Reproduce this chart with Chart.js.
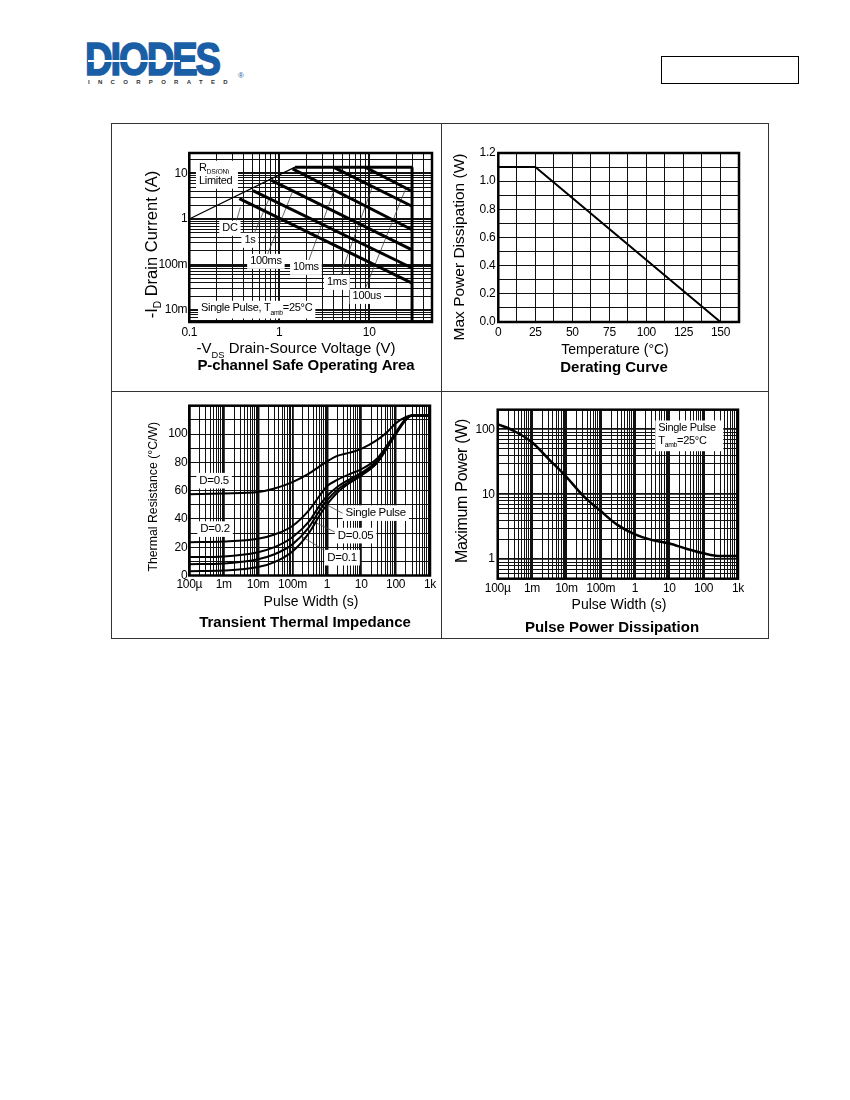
<!DOCTYPE html>
<html lang="en">
<head>
<meta charset="utf-8">
<title>Typical Characteristics</title>
<script src="https://cdn.jsdelivr.net/npm/chart.js@4.4.1/dist/chart.umd.min.js"></script>
<style>
  html, body { margin:0; padding:0; background:#fff; }
  body { width:850px; height:1100px; position:relative; overflow:hidden; font-family:"Liberation Sans", Arial, sans-serif; }
  .abs { position:absolute; }
  #logo { left:85px; top:36px; font-weight:bold; font-size:46px; line-height:46px; color:#1a5ea6; letter-spacing:-2.5px; -webkit-text-stroke:1.6px #1a5ea6; transform:scaleX(0.83); transform-origin:0 0; white-space:nowrap; }
  #logoStripe { left:88px; top:60px; width:92px; height:1.6px; background:#fff; }
  #logoSub { left:88px; top:79px; font-weight:bold; font-size:6px; line-height:6px; letter-spacing:8.3px; color:#333; white-space:nowrap; }
  #logoReg { left:238px; top:72px; font-size:8px; line-height:8px; color:#1a5ea6; }
  #partBox { left:661px; top:56px; width:138px; height:28px; border:1.5px solid #000; box-sizing:border-box; }
  #frame { left:111px; top:123px; width:658px; height:516px; border:1.5px solid #333; box-sizing:border-box; }
  #vdiv { left:440.5px; top:123px; width:1.5px; height:516px; background:#333; }
  #hdiv { left:111px; top:390.5px; width:658px; height:1.5px; background:#333; }
  canvas { position:absolute; }
</style>
</head>
<body>
<div id="logo" class="abs">DIODES</div>
<div id="logoStripe" class="abs"></div>
<div id="logoSub" class="abs">INCORPORATED</div>
<div id="logoReg" class="abs">®</div>
<div id="partBox" class="abs"></div>
<div id="frame" class="abs"></div>
<div id="vdiv" class="abs"></div>
<div id="hdiv" class="abs"></div>
<canvas id="soa" width="330" height="268" style="left:111px;top:123px"></canvas>
<canvas id="derating" width="328" height="268" style="left:441px;top:123px"></canvas>
<canvas id="thermal" width="330" height="248" style="left:111px;top:391px"></canvas>
<canvas id="pulse" width="328" height="248" style="left:441px;top:391px"></canvas>
<script>
const FONT = '"Liberation Sans", Arial, sans-serif';

// ===== P-channel Safe Operating Area (data) =====
const soaXTickValues = [0.1, 1, 10];
const soaXTickLabels = ['0.1', '1', '10'];
const soaYTickValues = [0.01, 0.1, 1, 10];
const soaYTickLabels = ['10m', '100m', '1', '10'];
const soaRdsVoltage = [0.1, 1.5];
const soaRdsCurrent = [1.0, 13.7];
const soaMaxVoltage = [1.5, 30];
const soaMaxCurrent = [13.7, 13.7];
const soaBvVoltage = [30, 30];
const soaBvCurrent = [13.7, 0.0055];
const soaPulseNames = ['DC', '1s', '100ms', '10ms', '1ms', '100us'];
const soaStartVoltage = [0.36, 0.51, 0.82, 1.41, 4.0, 9.0];
const soaStartCurrent = [2.8, 4.2, 7.0, 12.6, 13.7, 13.7];
const soaEndVoltage = [30, 30, 30, 30, 30, 30];
const soaEndCurrent = [0.039, 0.084, 0.21, 0.58, 1.9, 4.06];
// SOA annotation anchors (data units)
const soaLabelVoltage = [0.283, 0.472, 0.711, 1.98, 4.38, 9.43];
const soaLabelCurrent = [0.625, 0.34, 0.1175, 0.0867, 0.0406, 0.02];
const soaLeaderFromV = [0.335, 0.506, 0.71, 2.07, 4.64, 9.2];
const soaLeaderFromI = [0.92, 0.40, 0.135, 0.105, 0.049, 0.032];
const soaLeaderToV = [0.37, 0.774, 1.41, 4.08, 10.9, 25.6];
const soaLeaderToI = [1.8, 2.85, 4.06, 4.27, 5.2, 4.7];

// ===== Derating Curve (data) =====
const derTempC = [0, 25, 150];
const derPowerW = [1.1, 1.1, 0];
const derXTickValues = [0, 25, 50, 75, 100, 125, 150];
const derXTickLabels = ['0', '25', '50', '75', '100', '125', '150'];
const derYTickValues = [0, 0.2, 0.4, 0.6, 0.8, 1.0, 1.2];
const derYTickLabels = ['0.0', '0.2', '0.4', '0.6', '0.8', '1.0', '1.2'];

// ===== Transient Thermal Impedance (data) =====
const ttiPulseS = [1e-4, 1e-3, 1e-2, 3e-2, 0.1, 0.3, 0.6, 1, 2, 5, 10, 30, 60, 100, 200, 300, 1000];
const ttiD05    = [57.5, 58, 59, 61.5, 66, 72, 77, 80.5, 84.5, 87, 89.5, 96, 102, 107.5, 112, 113, 113];
const ttiD02    = [23.5, 24, 26, 29, 35, 46, 56, 63, 67.5, 72, 75, 83, 93, 101, 111, 113, 113];
const ttiD01    = [13, 13.5, 16.5, 20, 27, 38, 49, 56, 62.5, 68.5, 72.5, 81.5, 92, 100.5, 110.5, 113, 113];
const ttiD005   = [8, 8.5, 11.5, 15, 22, 34, 45.5, 53, 60.5, 67, 71.5, 80.5, 91.5, 100, 110, 113, 113];
const ttiSingle = [3, 3.5, 6, 9.5, 17, 30, 42, 50, 58.5, 66, 70.5, 80, 91, 99.5, 110, 113, 113];
const pulseXTickValues = [1e-4, 1e-3, 1e-2, 0.1, 1, 10, 100, 1000];
const pulseXTickLabels = ['100µ', '1m', '10m', '100m', '1', '10', '100', '1k'];
const ttiYTickValues = [0, 20, 40, 60, 80, 100];
const ttiYTickLabels = ['0', '20', '40', '60', '80', '100'];
// annotation anchors (data units)
const ttiLabelNames = ['D=0.5', 'D=0.2', 'Single Pulse', 'D=0.05', 'D=0.1'];
const ttiLabelT = [5.27e-4, 5.6e-4, 26.4, 6.85, 2.78];
const ttiLabelR = [67, 32.8, 44.1, 28.2, 12.6];
const ttiLeaderFromT = [0.83, 0.42, 0.194];
const ttiLeaderFromR = [51, 38, 27.4];
const ttiLeaderToT = [3.18, 2.04, 1.16];
const ttiLeaderToR = [43.4, 29.8, 15.7];

// ===== Pulse Power Dissipation (data) =====
const ppdPulseS = [1e-4, 3e-4, 1e-3, 3e-3, 1e-2, 3e-2, 0.1, 0.3, 1, 3, 10, 30, 100, 300, 1000];
const ppdPowerW = [120, 94, 63, 35, 18.5, 9.6, 5.5, 3.4, 2.4, 1.98, 1.74, 1.46, 1.23, 1.12, 1.12];
const ppdYTickValues = [1, 10, 100];
const ppdYTickLabels = ['1', '10', '100'];
const ppdNoteT = 4.76;
const ppdNoteP = [104.7, 66];

// ===== helpers =====
function logGrid(min, max) {
  const out = [];
  for (let e = Math.floor(Math.log10(min)); e <= Math.ceil(Math.log10(max)); e++) {
    for (let k = 1; k <= 9; k++) {
      const v = parseFloat((k * Math.pow(10, e)).toPrecision(8));
      if (v >= min * 0.99999 && v <= max * 1.00001) out.push({ value: v, major: k === 1, exp: e });
    }
  }
  return out;
}
function linGrid(min, max, step) {
  const out = [];
  const n = Math.round((max - min) / step);
  for (let i = 0; i <= n; i++) out.push({ value: parseFloat((min + i * step).toFixed(6)) });
  return out;
}
function labeler(values, labels, isLog) {
  return function (v) {
    const i = values.findIndex(t => isLog ? Math.abs(Math.log10(t) - Math.log10(v)) < 1e-6 : Math.abs(t - v) < 1e-6);
    return i >= 0 ? labels[i] : '';
  };
}
function axis(o) {
  return {
    type: o.type, position: o.position, min: o.min, max: o.max,
    afterBuildTicks: s => { s.ticks = o.grid.map(t => Object.assign({}, t)); },
    afterFit: s => { if (o.position === 'left') s.width = o.size; else s.height = o.size; },
    ticks: { autoSkip: false, maxRotation: 0, minRotation: 0, padding: o.pad, color: '#000',
             font: { family: FONT, size: 12 }, callback: labeler(o.tickValues, o.tickLabels, o.type === 'logarithmic') },
    grid: { color: '#111', lineWidth: o.gridWidth, drawTicks: false },
    border: { display: false }
  };
}
function series(xs, ys, width, color, extra) {
  return Object.assign({
    data: xs.map((x, i) => ({ x: x, y: ys[i] })),
    showLine: true, borderColor: color, backgroundColor: color, borderWidth: width,
    pointRadius: 0, pointHoverRadius: 0, fill: false, tension: 0
  }, extra || {});
}
function drawText(ctx, x, y, parts, o) {
  const size = o.size;
  ctx.save();
  ctx.letterSpacing = (o.ls !== undefined ? o.ls : -0.3) + 'px';
  ctx.translate(x, y);
  if (o.rot) ctx.rotate(o.rot);
  const segs = parts.map(p => {
    const sub = p[1] === 'sub';
    const s = sub ? Math.round(size * 0.62 * 10) / 10 : size;
    ctx.font = (o.bold ? 'bold ' : '') + s + 'px ' + FONT;
    return { t: p[0], s: s, sub: sub, w: ctx.measureText(p[0]).width };
  });
  const W = segs.reduce((a, b) => a + b.w, 0);
  let cx = o.align === 'left' ? 0 : -W / 2;
  if (o.bg) {
    const hasSub = segs.some(s => s.sub);
    ctx.fillStyle = '#fff';
    ctx.fillRect(cx - 3, -size * 0.68, (o.bgW || W) + 6, size * 1.36 + (hasSub ? size * 0.25 : 0));
  }
  ctx.fillStyle = '#000';
  ctx.textBaseline = 'middle';
  ctx.textAlign = 'left';
  for (const sg of segs) {
    ctx.font = (o.bold ? 'bold ' : '') + sg.s + 'px ' + FONT;
    ctx.fillText(sg.t, cx, sg.sub ? size * 0.4 : 0);
    cx += sg.w;
  }
  ctx.restore();
}
function decor(titles, annotate) {
  return {
    id: 'decor',
    beforeUpdate(c) { c.ctx.letterSpacing = '-0.3px'; },
    beforeDraw(c) { c.ctx.letterSpacing = '-0.3px'; },
    afterDatasetsDraw(c) { if (annotate) annotate(c, c.ctx, c.scales.x, c.scales.y); },
    afterDraw(c) {
      const a = c.chartArea, ctx = c.ctx;
      ctx.save();
      ctx.strokeStyle = '#000';
      ctx.lineWidth = 2.5;
      ctx.strokeRect(a.left, a.top, a.right - a.left, a.bottom - a.top);
      ctx.restore();
      titles.forEach(t => drawText(ctx, t.x, t.y, t.parts, t));
    }
  };
}
function makeChart(id, datasets, xAxis, yAxis, pad, titles, annotate) {
  return new Chart(document.getElementById(id), {
    type: 'scatter',
    data: { datasets: datasets },
    options: {
      responsive: false, animation: false, events: [],
      layout: { padding: { left: 0, top: pad.top, right: pad.right, bottom: 0 } },
      plugins: { legend: { display: false }, tooltip: { enabled: false }, title: { display: false } },
      scales: { x: xAxis, y: yAxis }
    },
    plugins: [decor(titles, annotate)]
  });
}
const majorW = (maj, min) => c => (c.tick && c.tick.major ? maj : min);

// ===== Chart 1: SOA =====
makeChart('soa', [
    series(soaRdsVoltage, soaRdsCurrent, 1.2, '#000'),
    series(soaMaxVoltage, soaMaxCurrent, 3, '#000'),
    series(soaBvVoltage, soaBvCurrent, 3, '#000'),
    ...soaPulseNames.map((n, i) => series([soaStartVoltage[i], soaEndVoltage[i]], [soaStartCurrent[i], soaEndCurrent[i]], 3, '#000', { label: n })),
    ...soaPulseNames.map((n, i) => series([soaLeaderFromV[i], soaLeaderToV[i]], [soaLeaderFromI[i], soaLeaderToI[i]], 0.8, '#444'))
  ],
  axis({ type: 'logarithmic', position: 'bottom', min: 0.1, max: 50, grid: logGrid(0.1, 50),
         tickValues: soaXTickValues, tickLabels: soaXTickLabels, size: 69, pad: 3, gridWidth: majorW(2, 1) }),
  axis({ type: 'logarithmic', position: 'left', min: 0.0055, max: 28, grid: logGrid(0.0055, 28),
         tickValues: soaYTickValues, tickLabels: soaYTickLabels, size: 78.3, pad: 2, gridWidth: majorW(2, 1) }),
  { top: 30, right: 9 },
  [
    { x: 41, y: 121.5, rot: -Math.PI / 2, size: 16.5, ls: 0, parts: [['-I'], ['D', 'sub'], [' Drain Current (A)']] },
    { x: 185, y: 226, size: 15, ls: 0, parts: [['-V'], ['DS', 'sub'], [' Drain-Source Voltage (V)']] },
    { x: 195, y: 243, size: 15, bold: true, ls: -0.1, parts: [['P-channel Safe Operating Area']] }
  ],
  (c, ctx, X, Y) => {
    soaPulseNames.forEach((n, i) => {
      drawText(ctx, X.getPixelForValue(soaLabelVoltage[i]), Y.getPixelForValue(soaLabelCurrent[i]), [[n]], { size: 11, bg: true });
    });
    const rx = X.getPixelForValue(0.128);
    drawText(ctx, rx, Y.getPixelForValue(13.0), [['R'], ['DS(ON)', 'sub']], { size: 11, align: 'left', bg: true, bgW: 36 });
    drawText(ctx, rx, Y.getPixelForValue(6.74), [['Limited']], { size: 11, align: 'left', bg: true, bgW: 36 });
    drawText(ctx, X.getPixelForValue(0.135), Y.getPixelForValue(0.011), [['Single Pulse, T'], ['amb', 'sub'], ['=25°C']], { size: 11, align: 'left', bg: true });
  });

// ===== Chart 2: Derating =====
makeChart('derating', [series(derTempC, derPowerW, 2, '#000')],
  axis({ type: 'linear', position: 'bottom', min: 0, max: 162.5, grid: linGrid(0, 162.5, 12.5),
         tickValues: derXTickValues, tickLabels: derXTickLabels, size: 69, pad: 3, gridWidth: 1 }),
  axis({ type: 'linear', position: 'left', min: 0, max: 1.2, grid: linGrid(0, 1.2, 0.1),
         tickValues: derYTickValues, tickLabels: derYTickLabels, size: 57.3, pad: 3, gridWidth: 1 }),
  { top: 30, right: 30 },
  [
    { x: 18.5, y: 124, rot: -Math.PI / 2, size: 15.5, ls: 0, parts: [['Max Power Dissipation (W)']] },
    { x: 174, y: 227, size: 14, ls: 0, parts: [['Temperature (°C)']] },
    { x: 173, y: 245, size: 15, bold: true, ls: 0, parts: [['Derating Curve']] }
  ]);

// ===== Chart 3: Transient Thermal Impedance =====
const ttiSeries = [ttiD05, ttiD02, ttiD01, ttiD005, ttiSingle];
makeChart('thermal', [
    ...ttiSeries.map(s => series(ttiPulseS, s, 2, '#000', { cubicInterpolationMode: 'monotone' })),
    ...ttiLeaderFromT.map((t, i) => series([t, ttiLeaderToT[i]], [ttiLeaderFromR[i], ttiLeaderToR[i]], 0.8, '#444'))
  ],
  axis({ type: 'logarithmic', position: 'bottom', min: 1e-4, max: 1000, grid: logGrid(1e-4, 1000),
         tickValues: pulseXTickValues, tickLabels: pulseXTickLabels, size: 63.5, pad: 2,
         gridWidth: c => c.tick && c.tick.major ? (c.tick.exp % 2 === 0 ? 2.5 : 1.8) : 1 }),
  axis({ type: 'linear', position: 'left', min: 0, max: 120, grid: linGrid(0, 120, 10),
         tickValues: ttiYTickValues, tickLabels: ttiYTickLabels, size: 78.3, pad: 2, gridWidth: 1 }),
  { top: 14.7, right: 11 },
  [
    { x: 43, y: 105.7, rot: -Math.PI / 2, size: 12.3, ls: 0, parts: [['Thermal Resistance (°C/W)']] },
    { x: 200, y: 211, size: 14, ls: 0, parts: [['Pulse Width (s)']] },
    { x: 194, y: 232, size: 15, bold: true, ls: 0, parts: [['Transient Thermal Impedance']] }
  ],
  (c, ctx, X, Y) => {
    ttiLabelNames.forEach((n, i) => {
      drawText(ctx, X.getPixelForValue(ttiLabelT[i]), Y.getPixelForValue(ttiLabelR[i]), [[n]], { size: 11.5, bg: true });
    });
  });

// ===== Chart 4: Pulse Power Dissipation =====
makeChart('pulse', [series(ppdPulseS, ppdPowerW, 2.5, '#000', { cubicInterpolationMode: 'monotone' })],
  axis({ type: 'logarithmic', position: 'bottom', min: 1e-4, max: 1000, grid: logGrid(1e-4, 1000),
         tickValues: pulseXTickValues, tickLabels: pulseXTickLabels, size: 60.3, pad: 2.5, gridWidth: majorW(2, 1) }),
  axis({ type: 'logarithmic', position: 'left', min: 0.5, max: 200, grid: logGrid(0.5, 200),
         tickValues: ppdYTickValues, tickLabels: ppdYTickLabels, size: 56.7, pad: 3, gridWidth: majorW(1.8, 1) }),
  { top: 18.7, right: 31 },
  [
    { x: 21.5, y: 100, rot: -Math.PI / 2, size: 16, parts: [['Maximum Power (W)']] },
    { x: 178, y: 214, size: 14, ls: 0, parts: [['Pulse Width (s)']] },
    { x: 171, y: 236.5, size: 15, bold: true, ls: 0, parts: [['Pulse Power Dissipation']] }
  ],
  (c, ctx, X, Y) => {
    const x = X.getPixelForValue(ppdNoteT);
    drawText(ctx, x, Y.getPixelForValue(ppdNoteP[0]), [['Single Pulse']], { size: 11, align: 'left', bg: true, bgW: 62 });
    drawText(ctx, x, Y.getPixelForValue(ppdNoteP[1]), [['T'], ['amb', 'sub'], ['=25°C']], { size: 11, align: 'left', bg: true, bgW: 62 });
  });
</script>
</body>
</html>
